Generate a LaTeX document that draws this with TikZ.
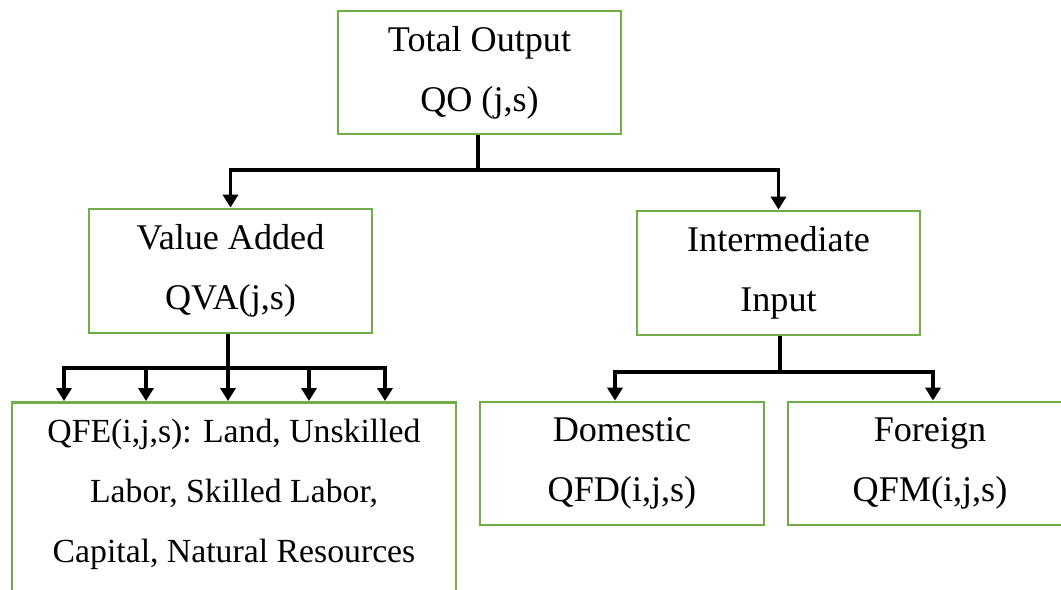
\documentclass[tikz,border=0pt]{standalone}
\usepackage{fontspec}
\setmainfont{Liberation Serif}
\usetikzlibrary{arrows.meta}
\definecolor{boxgreen}{RGB}{112,173,71}

\begin{document}
\begin{tikzpicture}[x=0.025cm,y=-0.025cm,
  box/.style={draw=boxgreen,line width=2pt,minimum width=7.075cm,minimum height=3.075cm,
    align=center,inner sep=0pt,font=\fontsize{25.7}{42.7}\selectfont},
  link/.style={line width=2.6pt,black},
  tip/.style={-{Triangle[width=10.7pt,length=9.2pt]}}]
\useasboundingbox (0,0) rectangle (1061,590);
\clip (0,0) rectangle (1061,590);
% boxes
\node[box] (top) at (479.5,72.5) {Total Output\\QO (j,s)};
\node[box,minimum height=3.1cm] (va) at (230.5,271) {Value Added\\QVA(j,s)};
\node[box,minimum height=3.1cm] (ii) at (778.5,273) {Intermediate\\Input};
\node[box,minimum width=11.1cm,minimum height=6cm,anchor=north] (qfe) at (234,401) {};
\node[align=center,font=\fontsize{24}{42.7}\selectfont] (qfetext) at (234,494)
  {QFE(i,j,s): Land, Unskilled\\Labor, Skilled Labor,\\Capital, Natural Resources};
\node[box,minimum width=7.1cm] (dom) at (622,463.5) {Domestic\\QFD(i,j,s)};
\node[box,minimum width=7.1cm] (fm) at (930,463.5) {Foreign\\QFM(i,j,s)};
% top level
\coordinate (tj) at (478,170);
\draw[link] (top.south -| tj) -- (tj);
\draw[link,tip] (tj) -| (va.north);
\draw[link,tip] (tj) -| (ii.north);
% value added
\coordinate (vj) at (228,368);
\foreach \x [count=\i] in {64,146,228,309,385}
  \coordinate (f\i) at (\x,368);
\draw[link] (va.south -| vj) -- (vj);
\draw[link,line cap=rect] (f1) -- (f5);
\foreach \i in {1,...,5}
  \draw[link,tip] (f\i) -- (f\i |- qfe.north);
% intermediate input
\coordinate (ij) at (780,372);
\coordinate (d1) at (615,372);
\coordinate (d2) at (933,372);
\draw[link] (ii.south -| ij) -- (ij);
\draw[link,line cap=rect] (d1) -- (d2);
\draw[link,tip] (d1) -- (d1 |- dom.north);
\draw[link,tip] (d2) -- (d2 |- fm.north);
\end{tikzpicture}
\end{document}
